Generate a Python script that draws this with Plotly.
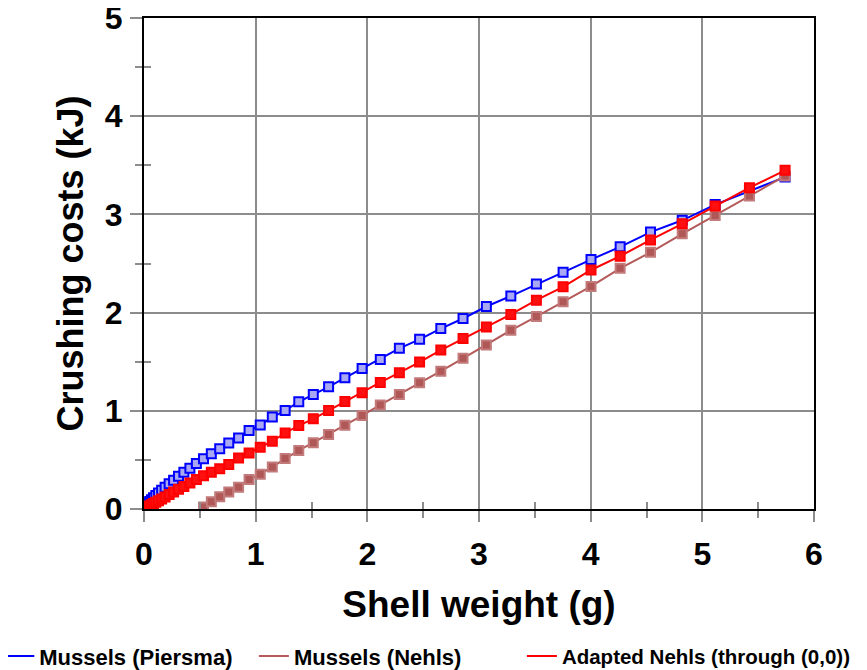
import plotly.graph_objects as go

# Shell weight (g) for each sample point
shell_weight = [0.001, 0.0025, 0.005, 0.008, 0.013, 0.020, 0.028, 0.039, 0.051, 0.067,
                0.085, 0.106, 0.130, 0.158, 0.189, 0.225, 0.265, 0.309, 0.357, 0.411,
                0.469, 0.533, 0.603, 0.678, 0.759, 0.847, 0.941, 1.041, 1.149, 1.264,
                1.386, 1.516, 1.653, 1.799, 1.953, 2.116, 2.287, 2.468, 2.658, 2.857,
                3.066, 3.285, 3.514, 3.753, 4.003, 4.264, 4.536, 4.820, 5.115, 5.422, 5.741]

# Mussels (Piersma), kJ
piersma = [0.003, 0.007, 0.011, 0.018, 0.026, 0.035, 0.047, 0.061, 0.077, 0.095,
           0.115, 0.138, 0.163, 0.191, 0.221, 0.256, 0.293, 0.333, 0.375, 0.416,
           0.464, 0.511, 0.562, 0.614, 0.672, 0.723, 0.799, 0.855, 0.936, 1.002,
           1.092, 1.166, 1.244, 1.336, 1.431, 1.523, 1.636, 1.728, 1.837, 1.940,
           2.062, 2.168, 2.290, 2.410, 2.540, 2.670, 2.820, 2.940, 3.100, 3.240, 3.380]

# Adapted Nehls (through (0,0)), kJ
adapted = [0.001, 0.002, 0.003, 0.005, 0.008, 0.013, 0.018, 0.025, 0.033, 0.043,
           0.055, 0.068, 0.084, 0.102, 0.123, 0.148, 0.174, 0.200, 0.230, 0.264,
           0.300, 0.338, 0.373, 0.410, 0.452, 0.520, 0.571, 0.629, 0.690, 0.774,
           0.850, 0.918, 1.003, 1.095, 1.183, 1.289, 1.388, 1.496, 1.619, 1.735,
           1.854, 1.981, 2.127, 2.263, 2.434, 2.574, 2.740, 2.904, 3.085, 3.272, 3.449]

# Mussels (Nehls), kJ — defined from 0.53 g upward
nehls_weight = [0.533, 0.603, 0.678, 0.759, 0.847, 0.941, 1.041, 1.149, 1.264, 1.386,
                1.516, 1.653, 1.799, 1.953, 2.116, 2.287, 2.468, 2.658, 2.857, 3.066,
                3.285, 3.514, 3.753, 4.003, 4.264, 4.536, 4.820, 5.115, 5.422, 5.741]
nehls = [0.020, 0.075, 0.126, 0.172, 0.222, 0.300, 0.355, 0.428, 0.514, 0.596,
         0.675, 0.759, 0.852, 0.951, 1.060, 1.166, 1.285, 1.404, 1.534, 1.670,
         1.820, 1.960, 2.110, 2.267, 2.451, 2.614, 2.802, 2.989, 3.187, 3.392]

x_ticks = [0, 1, 2, 3, 4, 5, 6]
y_ticks = [0, 1, 2, 3, 4, 5]

BLUE = "#0000FF"
BROWN = "#B45A5A"
RED = "#FF0000"
FONT = "Liberation Sans, Arial, sans-serif"
GRID = "#8C8C8C"

fig = go.Figure()

series = [
    ("Mussels (Piersma)", shell_weight, piersma, BLUE, "#A8A8F4", BLUE, "legend"),
    ("Mussels (Nehls)", nehls_weight, nehls, BROWN, "#B05858", "#C27A7A", "legend2"),
    ("Adapted Nehls (through (0,0))", shell_weight, adapted, RED, "#FF1010", RED, "legend3"),
]

for name, xs, ys, col, fill, edge, lg in series:
    fig.add_trace(go.Scatter(
        x=xs, y=ys, mode="lines+markers", name=name, showlegend=False,
        line=dict(color=col, width=2),
        marker=dict(symbol="square", size=9, color=fill, line=dict(color=edge, width=2)),
    ))

for name, xs, ys, col, fill, edge, lg in series:
    fig.add_trace(go.Scatter(
        x=[None], y=[None], mode="lines", name=name, showlegend=True, legend=lg,
        line=dict(color=col, width=2),
    ))

axis_common = dict(
    showline=True, linecolor="black", linewidth=2, mirror=True,
    showgrid=True, gridcolor=GRID, gridwidth=2,
    zeroline=False, ticks="outside", tickcolor=GRID, tickwidth=2,
    tickfont=dict(family=FONT, size=32, color="black", weight="bold"),
    automargin=False, ticklabeloverflow="allow",
)

legend_common = dict(
    orientation="h", y=-0.30, xanchor="left", yanchor="middle",
    bgcolor="rgba(0,0,0,0)", itemwidth=30,
)

def legend_font(size):
    return dict(family=FONT, size=size, color="black", weight="bold")

# The page body adds an 8 px offset; margins compensate so the plot frame
# lands at the reference position.
fig.update_layout(
    width=867, height=670,
    margin=dict(l=136, r=61, t=10, b=169, autoexpand=False),
    paper_bgcolor="white", plot_bgcolor="white",
    xaxis=dict(
        range=[0, 6], tickvals=x_ticks, ticklen=11, ticklabelstandoff=5,
        minor=dict(dtick=0.5, ticks="outside", ticklen=7, tickcolor=GRID, tickwidth=2, showgrid=False),
        title=dict(text="Shell weight (g)", standoff=20,
                   font=dict(family=FONT, size=37, color="black", weight="bold")),
        **axis_common,
    ),
    yaxis=dict(
        range=[0, 5], tickvals=y_ticks, ticklen=12, ticklabelstandoff=1,
        minor=dict(dtick=0.5, ticks="outside", ticklen=7, tickcolor=GRID, tickwidth=2, showgrid=False),
        title=dict(text="Crushing costs (kJ)", standoff=10,
                   font=dict(family=FONT, size=36, color="black", weight="bold")),
        **axis_common,
    ),
    xaxis2=dict(
        overlaying="x", anchor="y", range=[0, 6], side="bottom",
        tickmode="linear", tick0=0, dtick=0.5, ticks="inside", ticklen=7,
        tickcolor=GRID, tickwidth=2, showticklabels=False,
        showgrid=False, showline=False, zeroline=False,
    ),
    yaxis2=dict(
        overlaying="y", anchor="x", range=[0, 5], side="left",
        tickmode="linear", tick0=0.5, dtick=1, ticks="inside", ticklen=7,
        tickcolor=GRID, tickwidth=2, showticklabels=False,
        showgrid=False, showline=False, zeroline=False,
    ),
    legend=dict(x=-0.216, font=legend_font(22), **legend_common),
    legend2=dict(x=0.164, font=legend_font(22), **legend_common),
    legend3=dict(x=0.564, font=legend_font(20.5), **legend_common),
)

# invisible anchor trace so the overlay tick axes are drawn
fig.add_trace(go.Scatter(x=[None], y=[None], xaxis="x2", yaxis="y2",
                         showlegend=False, hoverinfo="skip"))

fig.write_html("out.html")
